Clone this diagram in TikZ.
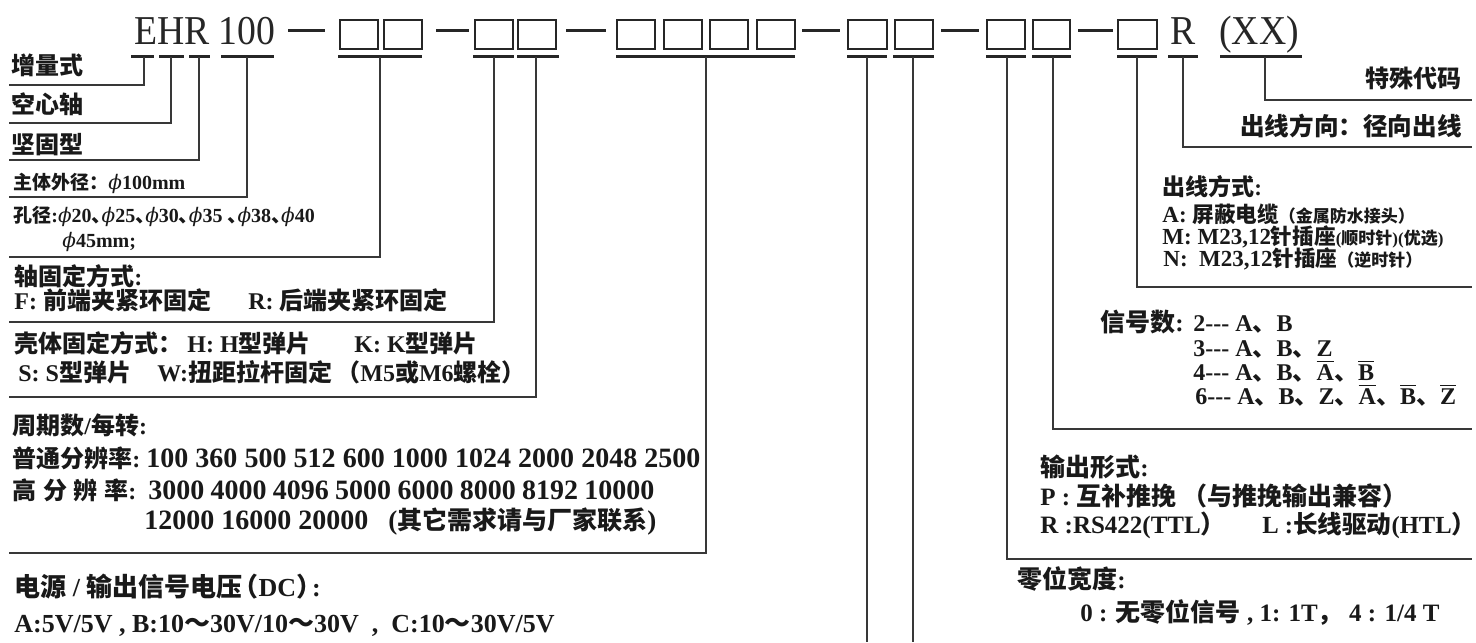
\documentclass[tikz,border=0pt]{standalone}
\usepackage{fontspec}
\setmainfont{Liberation Serif}
\newfontfamily\hdr{Liberation Serif}[FakeStretch=0.92]
\newfontfamily\cjk{Noto Sans CJK SC}
\newfontfamily\phifont{DejaVu Serif}
\newcommand\C[1]{{\cjk #1}}
\newcommand\fs[1]{\fontsize{#1}{#1}\selectfont}
\newcommand\ph{{\phifont\mdseries\itshape ϕ}}
\newcommand\ovl[1]{\leavevmode\vbox{\hrule height 0.9pt\kern0.9pt\hbox{#1}}}
\newcommand\lp[1][6pt]{\makebox[#1][r]{\C{（}}}
\newcommand\rp[1][6pt]{\makebox[#1][l]{\C{）}}}
\newcommand\dn{\makebox[5pt][l]{\C{、}}}
\newcommand\hy{-{}-{}-}
\begin{document}
\begin{tikzpicture}[x=0.5pt,y=-0.5pt,
  conn/.style={draw=black!78, line width=0.7pt},
  bar/.style={draw=black!85, line width=1.5pt},
  boxst/.style={draw=black!85, line width=1.2pt},
  dsh/.style={draw=black!85, line width=1.5pt},
  lbl/.style={anchor=base west, inner sep=0pt, font=\bfseries\fs{12}, text=black!90},
  rlbl/.style={lbl, anchor=base east},
  hd/.style={anchor=base west, inner sep=0pt, font=\hdr\fs{20.5}, text=black!85}]
\useasboundingbox (0,0) rectangle (1476,642);
\fill[white] (0,0) rectangle (1476,642);

% ---------- header ----------
\node[hd] (ehr) at (134,45) {EHR};
\node[hd] (n100) at (218,45) {100};
\node[hd] (rr) at (1170,45) {R};
\node[hd] (xx) at (1219,45) {(XX)};

\foreach \a/\b in {288/325,436/469,566/606,802/840,941/979,1078/1113}
  \draw[dsh] (\a,31) -- (\b,31);

\foreach \a/\b in {340/378,384/422,475/513,518/556,617/655,664/702,710/748,757/795,848/887,895/933,987/1025,1033/1070,1118/1157}
  \draw[boxst] (\a,20) rectangle (\b,49);

\foreach \a/\b in {131/154,159/184,189/210,221/274,338/422,473/514,517/559,616/795,847/887,893/934,986/1026,1032/1071,1117/1157,1168/1198,1220/1302}
  \draw[bar] (\a,57) -- (\b,57);

% ---------- connector ends ----------
\coordinate (bE) at (144,57);   \coordinate (lE) at (9,85);
\coordinate (bH) at (171,57);   \coordinate (lH) at (9,123);
\coordinate (bR) at (199,57);   \coordinate (lR) at (9,160);
\coordinate (b100) at (247,57); \coordinate (l100) at (9,197);
\coordinate (b1) at (380,57);   \coordinate (l1) at (9,257);
\coordinate (b3) at (494,57);   \coordinate (l3) at (9,322);
\coordinate (b4) at (536,57);   \coordinate (l4) at (9,397);
\coordinate (b5) at (706,57);   \coordinate (l5) at (9,553);
\coordinate (b9) at (867,57);   \coordinate (e9) at (867,642);
\coordinate (b10) at (913,57);  \coordinate (e10) at (913,642);
\coordinate (b11) at (1007,57); \coordinate (r11) at (1472,559);
\coordinate (b12) at (1053,57); \coordinate (r12) at (1472,429);
\coordinate (b13) at (1137,57); \coordinate (r13) at (1472,287);
\coordinate (bRR) at (1183,57); \coordinate (rRR) at (1472,147);
\coordinate (bXX) at (1265,57); \coordinate (rXX) at (1472,100);

\draw[conn] (bE) |- (lE);
\draw[conn] (bH) |- (lH);
\draw[conn] (bR) |- (lR);
\draw[conn] (b100) |- (l100);
\draw[conn] (b1) |- (l1);
\draw[conn] (b3) |- (l3);
\draw[conn] (b4) |- (l4);
\draw[conn] (b5) |- (l5);
\draw[conn] (b9) -- (e9);
\draw[conn] (b10) -- (e10);
\draw[conn] (b11) |- (r11);
\draw[conn] (b12) |- (r12);
\draw[conn] (b13) |- (r13);
\draw[conn] (bRR) |- (rRR);
\draw[conn] (bXX) |- (rXX);

% ---------- left labels ----------
\node[lbl] (t1) at (11,75) {\C{增量式}};
\node[lbl] (t2) at (11,113) {\C{空心轴}};
\node[lbl] (t3) at (11,153) {\C{坚固型}};
\node[lbl,font=\bfseries\fs{10}] (t4) at (13,189) {{\fs{9.5}\C{主体外径：}}\ph100mm};
\node[lbl,font=\bfseries\fs{10}] (t5) at (13,222) {{\fs{9.5}\C{孔径}}:\ph20\dn\ph25\dn\ph30\dn\ph35 \dn\ph38\dn\ph40};
\node[lbl,font=\bfseries\fs{10}] (t5b) at (62,247) {\ph45mm;};
\node[lbl] (t6) at (14,285) {\C{轴固定方式}:};
\node[lbl] (t7a) at (14,309) {F: \C{前端夹紧环固定}};
\node[lbl] (t7b) at (248,309) {R: \C{后端夹紧环固定}};
\node[lbl] (t8a) at (14,352) {\C{壳体固定方式：}};
\node[lbl] (t8b) at (187,352) {H: H\C{型弹片}};
\node[lbl] (t8c) at (354,352) {K: K\C{型弹片}};
\node[lbl] (t9a) at (18,381) {S: S\C{型弹片}};
\node[lbl] (t9b) at (157,381) {W:\C{扭距拉杆固定}};
\node[lbl] (t9c) at (348,381) {\lp M5\C{或}M6\C{螺栓}\rp};
\node[lbl] (t10) at (12,434) {\C{周期数}/\C{每转}:};
\node[lbl] (t11a) at (12,467) {\C{普通分辨率}:};
\node[lbl,font=\bfseries\fs{14}] (t11b) at (146,467) {\hbox to 277pt{100 360 500 512 600 1000 1024 2000 2048 2500}};
\node[lbl] (t12a) at (12,499) {\makebox[62pt][l]{\C{高}\hfill\C{分}\hfill\C{辨}\hfill\C{率}:}};
\node[lbl,font=\bfseries\fs{14}] (t12b) at (148,499) {\hbox to 253pt{3000 4000 4096 5000 6000 8000 8192 10000}};
\node[lbl,font=\bfseries\fs{14}] (t13a) at (144,529) {12000 16000 20000};
\node[lbl,font=\bfseries\fs{12.5}] (t13b) at (388,529) {{\fs{13.5}(}\C{其它需求请与厂家联系}{\fs{13.5})}};
\node[lbl,font=\bfseries\fs{13}] (t14) at (14,596) {\C{电源} / \C{输出信号电压}\lp[8pt]DC\rp[8pt]:};
\node[lbl,font=\bfseries\fs{13}] (t15) at (14,632) {A:5V/5V , B:10\C{～}30V/10\C{～}30V \ , \ C:10\C{～}30V/5V};

% ---------- right labels ----------
\node[rlbl] (u1) at (1462,88) {\C{特殊代码}};
\node[rlbl,font=\bfseries\fs{12.3}] (u2) at (1462,135) {\C{出线方向：径向出线}};
\node[lbl,font=\bfseries\fs{11.5}] (u3) at (1162,195) {\C{出线方式}:};
\node[lbl,font=\bfseries\fs{11.5}] (u4) at (1162,222) {A: {\fs{10.8}\C{屏蔽电缆}}{\fs{8.5}\C{（金属防水接头）}}};
\node[lbl,font=\bfseries\fs{11.5}] (u5) at (1162,244) {M: M23,12{\fs{10.8}\C{针插座}}{\fs{8.5}(\C{顺时针})(\C{优选})}};
\node[lbl,font=\bfseries\fs{11.5}] (u6) at (1163,266) {N:\ \ M23,12{\fs{10.8}\C{针插座}}{\fs{8.5}\C{（逆时针）}}};
\node[lbl,font=\bfseries\fs{12.5}] (u7) at (1100,331) {\C{信号数}:};
\node[lbl,font=\bfseries\fs{12}] (u7b) at (1193,331) {2\hy{} A\C{、}B};
\node[lbl,font=\bfseries\fs{12}] (u8) at (1193,356) {3\hy{} A\C{、}B\C{、}Z};
\node[lbl,font=\bfseries\fs{12}] (u9) at (1193,380) {4\hy{} A\C{、}B\C{、}\ovl{A}\C{、}\ovl{B}};
\node[lbl,font=\bfseries\fs{12}] (u10) at (1195,404) {6\hy{} A\C{、}B\C{、}Z\C{、}\ovl{A}\C{、}\ovl{B}\C{、}\ovl{Z}};
\node[lbl,font=\bfseries\fs{12.5}] (u11) at (1040,476) {\C{输出形式}:};
\node[lbl,font=\bfseries\fs{12.5}] (u12) at (1040,505) {P : \C{互补推挽 （与推挽输出兼容）}};
\node[lbl,font=\bfseries\fs{12.5}] (u13a) at (1040,533) {R :RS422(TTL\rp};
\node[lbl,font=\bfseries\fs{12.3}] (u13b) at (1262,533) {L :\C{长线驱动}(HTL\rp};
\node[lbl,font=\bfseries\fs{12.5}] (u14) at (1017,588) {\C{零位宽度}:};
\node[lbl,font=\bfseries\fs{12.5}] (u15) at (1080,621) {0 : \C{无零位信号} , 1: 1T\C{，} 4 : 1/4 T};
\end{tikzpicture}
\end{document}
